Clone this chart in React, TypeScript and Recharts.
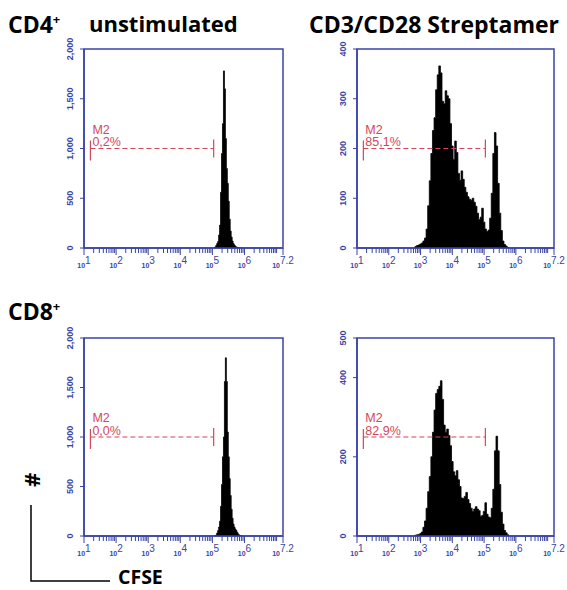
import React from 'react';
import { ComposedChart, Area, XAxis, YAxis, ReferenceArea, ReferenceLine } from 'recharts';

const BLUE = '#3a44a6';
const RED = '#d2465e';

// bin centres, log10 of CFSE intensity
const narrowBins = [
  5.06, 5.09, 5.12, 5.15, 5.18, 5.21, 5.24, 5.27, 5.3, 5.33,
  5.36, 5.39, 5.42, 5.45, 5.48, 5.51, 5.54, 5.57, 5.6, 5.63,
  5.66, 5.69, 5.72, 5.75, 5.78, 5.81, 5.84, 5.87, 5.9, 5.93,
];
const cd4UnstimCounts = [
  0, 10, 25, 45, 65, 130, 230, 560, 950, 1250,
  1780, 1600, 1100, 800, 650, 470, 290, 170, 110, 70,
  45, 30, 18, 10, 6, 3, 0, 0, 0, 0,
];
const cd8UnstimCounts = [
  0, 0, 10, 30, 55, 90, 150, 300, 520, 800,
  1000, 1560, 1800, 1560, 1050, 800, 580, 410, 270, 180,
  120, 90, 70, 55, 35, 20, 10, 5, 2, 0,
];

const wideBins = [
  2.8, 2.85, 2.9, 2.95, 3.0, 3.05, 3.1, 3.15, 3.2, 3.25,
  3.3, 3.35, 3.4, 3.45, 3.5, 3.55, 3.6, 3.65, 3.7, 3.75,
  3.8, 3.85, 3.9, 3.95, 4.0, 4.05, 4.1, 4.15, 4.2, 4.25,
  4.3, 4.35, 4.4, 4.45, 4.5, 4.55, 4.6, 4.65, 4.7, 4.75,
  4.8, 4.85, 4.9, 4.95, 5.0, 5.05, 5.1, 5.15, 5.2, 5.25,
  5.3, 5.35, 5.4, 5.45, 5.5, 5.55, 5.6, 5.65, 5.7, 5.75, 5.8,
];
const cd4StimCounts = [
  0, 3, 5, 6, 8, 10, 14, 20, 38, 85,
  135, 190, 236, 262, 318, 348, 366, 352, 295, 290,
  316, 306, 300, 250, 205, 178, 215, 192, 150, 136,
  155, 138, 122, 112, 103, 98, 96, 100, 92, 84,
  70, 57, 62, 80, 52, 38, 33, 36, 60, 110,
  190, 232, 205, 130, 70, 35, 14, 7, 4, 1, 0,
];
const cd8StimCounts = [
  0, 2, 3, 4, 6, 10, 22, 38, 70, 112,
  150, 200, 262, 318, 360, 370, 378, 392, 345, 280,
  262, 270, 254, 228, 188, 162, 152, 165, 142, 125,
  96, 95, 100, 110, 92, 82, 70, 62, 68, 74,
  68, 64, 50, 52, 62, 84, 55, 48, 46, 70,
  118, 215, 252, 215, 130, 60, 30, 14, 8, 3, 0,
];

const gatePercents = ['0,2%', '85,1%', '0,0%', '82,9%'];
const gateLevels = [1000, 200, 1000, 250];
const GATE_FROM = 1.2;
const GATE_TO = 5.04;

const yTicksBig = [0, 500, 1000, 1500, 2000];
const yTicksStim4 = [0, 100, 200, 300, 400];
const yTicksStim8 = [0, 200, 400, 500];

const MAJOR_TICKS = [1, 2, 3, 4, 5, 6, 7.2];
const MINOR_TICKS = [1, 2, 3, 4, 5, 6]
  .flatMap((d) => [2, 3, 4, 5, 6, 7, 8, 9].map((k) => d + Math.log10(k)))
  .concat([7]);
const X_TICKS = [...MAJOR_TICKS, ...MINOR_TICKS].sort((a, b) => a - b);

const toRows = (bins: number[], counts: number[]) =>
  bins.map((x, i) => ({ x, c: counts[i] }));

const PANELS = [
  { left: 84, top: 49, w: 199, h: 199, bins: narrowBins, counts: cd4UnstimCounts, max: 2000, ticks: yTicksBig },
  { left: 357, top: 49, w: 197, h: 199, bins: wideBins, counts: cd4StimCounts, max: 400, ticks: yTicksStim4 },
  { left: 84, top: 338, w: 199, h: 198, bins: narrowBins, counts: cd8UnstimCounts, max: 2000, ticks: yTicksBig },
  { left: 357, top: 338, w: 197, h: 198, bins: wideBins, counts: cd8StimCounts, max: 500, ticks: yTicksStim8 },
];

function XTick(props: any) {
  const { x, y, payload } = props;
  const v = payload.value;
  const major = MAJOR_TICKS.includes(v);
  return (
    <g>
      <line x1={x} x2={x} y1={y} y2={y + (major ? 7 : 5)} stroke={BLUE} strokeWidth={1} />
      {major && (
        <text x={x} y={y + 20} textAnchor="middle" fill={BLUE} fontSize={7} fontWeight={700} fontFamily="Liberation Sans">
          10
          <tspan dy={-4} fontSize={10} fontWeight={400}>{String(v)}</tspan>
        </text>
      )}
    </g>
  );
}

function YTick(props: any) {
  const { x, y, payload } = props;
  return (
    <g>
      <line x1={x - 4} x2={x} y1={y} y2={y} stroke={BLUE} strokeWidth={1} />
      <text
        transform={`translate(${x - 14},${y}) rotate(-90)`}
        textAnchor="middle"
        dominantBaseline="central"
        fontSize={9}
        fontWeight={700}
        fontFamily="Liberation Sans"
        fill={BLUE}
      >
        {Number(payload.value).toLocaleString('en-US')}
      </text>
    </g>
  );
}

function GateMarks(props: any) {
  const { viewBox, pct } = props;
  if (!viewBox) return null;
  const { x, y, width } = viewBox;
  return (
    <g>
      <line x1={x} x2={x} y1={y - 8} y2={y + 12} stroke={RED} strokeWidth={1.2} />
      <line x1={x + width} x2={x + width} y1={y - 9} y2={y + 9} stroke={RED} strokeWidth={1.2} />
      <text x={x + 2} y={y - 15} fontSize={12.5} fill={RED} fontFamily="Liberation Sans">M2</text>
      <text x={x + 2} y={y - 2.5} fontSize={12.5} fill={RED} fontFamily="Liberation Sans">{pct}</text>
    </g>
  );
}

function Histogram({ panel, idx }: { panel: (typeof PANELS)[number]; idx: number }) {
  const { left, top, w, h, bins, counts, max, ticks } = panel;
  const data = toRows(bins, counts);
  const level = gateLevels[idx];
  return (
    <div style={{ position: 'absolute', left: left - 50, top: top - 20 }}>
      <ComposedChart
        width={50 + w + 12}
        height={20 + h + 30}
        data={data}
        margin={{ top: 20, right: 12, bottom: 0, left: 0 }}
      >
        <XAxis
          dataKey="x"
          type="number"
          domain={[1, 7.2]}
          ticks={X_TICKS}
          interval={0}
          height={30}
          tickSize={0}
          tickMargin={0}
          tickLine={false}
          tick={<XTick />}
          axisLine={{ stroke: BLUE, strokeWidth: 1.5 }}
          allowDataOverflow
        />
        <YAxis
          type="number"
          domain={[0, max]}
          ticks={ticks}
          interval={0}
          width={50}
          tickSize={0}
          tickMargin={0}
          tickLine={false}
          tick={<YTick />}
          axisLine={{ stroke: BLUE, strokeWidth: 1.5 }}
          allowDataOverflow
        />
        <ReferenceArea x1={1} x2={7.2} y1={0} y2={max} fill="none" stroke={BLUE} strokeWidth={1.5} />
        <Area
          type="step"
          dataKey="c"
          stroke="#000"
          strokeWidth={0.8}
          fill="#000"
          fillOpacity={1}
          isAnimationActive={false}
          dot={false}
          activeDot={false}
        />
        <ReferenceLine
          segment={[{ x: GATE_FROM, y: level }, { x: GATE_TO, y: level }]}
          stroke={RED}
          strokeWidth={1.2}
          strokeDasharray="5 3"
          label={<GateMarks pct={gatePercents[idx]} />}
        />
      </ComposedChart>
    </div>
  );
}

const TITLE_FONT = '"Open Sans", Lato, sans-serif';

export default function App() {
  return (
    <div style={{ position: 'absolute', left: 0, top: 0, width: 567, height: 590, background: '#fff', overflow: 'hidden' }}>
      <svg width={567} height={590} style={{ position: 'absolute', left: 0, top: 0 }}>
        <g fontFamily={TITLE_FONT} fontWeight={700} fill="#000">
          <text x={8} y={33} fontSize={23}>
            CD4<tspan dy={-9} fontSize={13}>+</tspan>
          </text>
          <text x={89} y={32} fontSize={22}>unstimulated</text>
          <text x={309} y={33} fontSize={23}>CD3/CD28 Streptamer</text>
          <text x={8} y={320} fontSize={23}>
            CD8<tspan dy={-9} fontSize={13}>+</tspan>
          </text>
          <text transform="translate(31,480) rotate(-90)" textAnchor="middle" dominantBaseline="central" fontSize={22}>#</text>
          <text x={118} y={584} fontSize={19.5}>CFSE</text>
        </g>
        <polyline points="31,505 31,581 110,581" fill="none" stroke="#000" strokeWidth={1.5} />
      </svg>
      {PANELS.map((p, i) => (
        <Histogram key={i} panel={p} idx={i} />
      ))}
    </div>
  );
}
